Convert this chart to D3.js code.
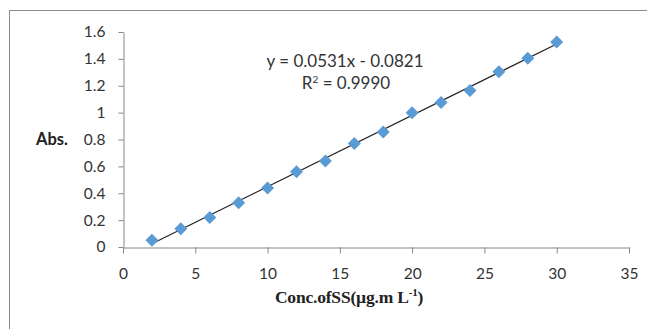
<!DOCTYPE html>
<html><head><meta charset="utf-8">
<script src="https://cdn.jsdelivr.net/npm/d3@7"></script>
<style>body{margin:0;background:#fff}</style>
</head><body>
<svg id="c" width="647" height="329"></svg>
<script>
const concentrations = [2,4,6,8,10,12,14,16,18,20,22,24,26,28,30];
const absorbance = [0.05,0.135,0.22,0.33,0.44,0.56,0.64,0.77,0.855,1.0,1.075,1.165,1.305,1.405,1.525];
const slope = 0.0531, intercept = -0.0821;
const xTicks = [0,5,10,15,20,25,30,35];
const yTicks = [0,0.2,0.4,0.6,0.8,1,1.2,1.4,1.6];
const eqLabel = "y = 0.0531x - 0.0821";
const r2Value = "0.9990";

const svg = d3.select("#c");
svg.append("rect").attr("x",9.5).attr("y",10.5).attr("width",650).attr("height",330)
  .attr("fill","none").attr("stroke","#8c8c8c").attr("stroke-width",1);

const x = d3.scaleLinear().domain([0,35]).range([123,629]);
const y = d3.scaleLinear().domain([0,1.6]).range([247,32]);
const axisColor = "#868686";
const tickFont = "Lato, 'Open Sans', sans-serif";

const gx = svg.append("g").attr("transform","translate(0,247.5)")
  .call(d3.axisBottom(x).tickValues(xTicks).tickSize(6).tickSizeOuter(0).tickPadding(14).tickFormat(d3.format("d")));
const gy = svg.append("g").attr("transform","translate(123.5,0)")
  .call(d3.axisLeft(y).tickValues(yTicks).tickSize(5).tickSizeOuter(0).tickPadding(13).tickFormat(d=>d3.format("")(+d.toFixed(1))));
[gx,gy].forEach(g=>{
  g.select(".domain").attr("stroke",axisColor);
  g.selectAll(".tick line").attr("stroke",axisColor);
  g.selectAll(".tick text").attr("fill","#333").style("font-family",tickFont).style("font-size","15.5px");
});

// trendline
const x0 = concentrations[0], x1 = concentrations[concentrations.length-1];
svg.append("line").attr("x1",x(x0)).attr("y1",y(slope*x0+intercept))
  .attr("x2",x(x1)).attr("y2",y(slope*x1+intercept))
  .attr("stroke","#222").attr("stroke-width",1.2);

// markers
svg.selectAll("path.pt").data(concentrations).enter().append("path")
  .attr("class","pt")
  .attr("transform",(d,i)=>`translate(${x(d)},${y(absorbance[i])})`)
  .attr("d","M0,-6.5L6.5,0L0,6.5L-6.5,0Z").attr("fill","#5b9bd5");

// equation
svg.append("text").attr("x",345).attr("y",67).attr("text-anchor","middle")
  .style("font-family",tickFont).style("font-size","17px").attr("fill","#333").text(eqLabel);
const r2 = svg.append("text").attr("x",346).attr("y",89).attr("text-anchor","middle")
  .style("font-family",tickFont).style("font-size","17px").attr("fill","#333");
r2.append("tspan").text("R");
r2.append("tspan").attr("dy",-6).style("font-size","10px").text("2");
r2.append("tspan").attr("dy",6).text(" = " + r2Value);

// axis titles
const titleFont = "'Liberation Serif', 'DejaVu Serif', serif";
svg.append("text").attr("x",36).attr("y",145)
  .style("font-family",tickFont).style("font-weight","bold").style("font-size","16.5px")
  .attr("fill","#222").text("Abs.");
const xt = svg.append("text").attr("x",349).attr("y",303).attr("text-anchor","middle")
  .style("font-family",titleFont).style("font-weight","bold").style("font-size","17.5px")
  .style("letter-spacing","-0.2px").attr("fill","#222");
xt.append("tspan").text("Conc.ofSS(µg.m L");
xt.append("tspan").attr("dy",-7).style("font-size","11px").text("-1");
xt.append("tspan").attr("dy",7).text(")");
</script>
</body></html>
